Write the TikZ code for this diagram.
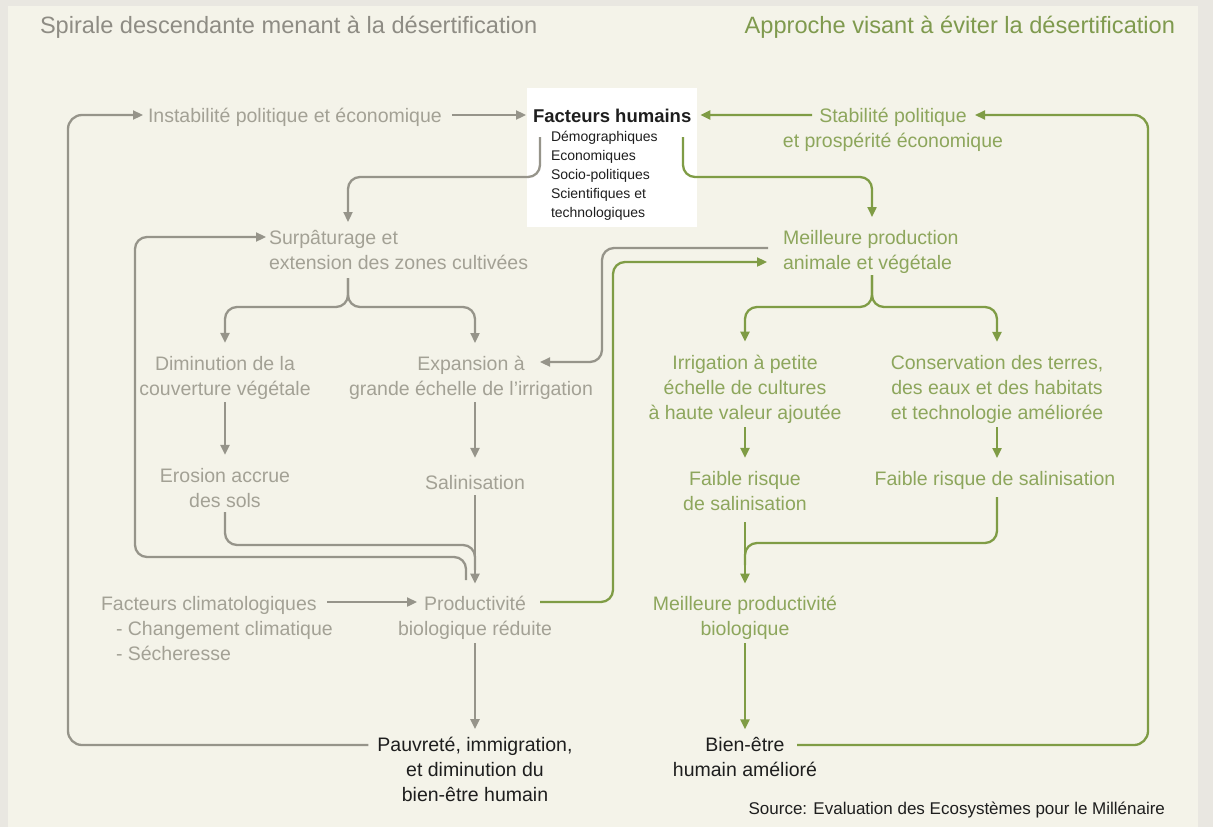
\documentclass[tikz,border=0pt]{standalone}
\usepackage{fontspec}
\setmainfont{Liberation Sans}
\usetikzlibrary{arrows.meta}
\definecolor{bgout}{HTML}{E9E7E1}
\definecolor{bgin}{HTML}{F4F3E9}
\definecolor{grayT}{HTML}{A3A195}
\definecolor{grayL}{HTML}{96948A}
\definecolor{greenT}{HTML}{8DA65C}
\definecolor{greenL}{HTML}{7F9C45}
\definecolor{titleG}{HTML}{8E8C84}
\definecolor{titleV}{HTML}{7F9A4E}
\definecolor{ink}{HTML}{1E1E1E}
\begin{document}
\begin{tikzpicture}[x=1bp,y=-1bp,
  every node/.style={inner sep=0pt, outer sep=0pt},
  body/.style={font=\fontsize{19.5bp}{25bp}\selectfont, align=center, anchor=base},
  gtext/.style={body, text=grayT},
  vtext/.style={body, text=greenT},
  ktext/.style={body, text=ink},
  ttl/.style={font=\fontsize{23.6bp}{28bp}\selectfont},
  con/.style={line width=2.3bp, rounded corners=12bp},
  gcon/.style={con, draw=grayL},
  vcon/.style={con, draw=greenL},
  arr/.style={-{Triangle[length=10bp,width=9bp]}}
]
% background
\fill[bgout] (0,0) rectangle (1213,827);
\fill[bgin] (8,6) rectangle (1198,827);

% titles
\node[ttl, text=titleG, anchor=base west] (t1) at (40,33) {Spirale descendante menant à la désertification};
\node[ttl, text=titleV, anchor=base east] (t2) at (1175,33) {Approche visant à éviter la désertification};

% nodes (base anchor = baseline of the last line)
\node[gtext, anchor=base west] (instab) at (148,122) {Instabilité politique et économique};
\node[fill=white, minimum width=170bp, minimum height=139bp, anchor=north west] (fbox) at (527,88) {};
\node[font=\bfseries\fontsize{18.5bp}{22bp}\selectfont, text=ink, anchor=base west] (fh) at (533,122) {Facteurs humains};
\node[font=\fontsize{14bp}{19bp}\selectfont, text=ink, align=left, anchor=base west] (fhl) at (551,217) {Démographiques\\Economiques\\Socio-politiques\\Scientifiques et\\technologiques};
\node[vtext] (stab) at (893,147) {Stabilité politique\\et prospérité économique};

\node[gtext, align=left, anchor=base west] (surp) at (269,269) {Surpâturage et\\extension des zones cultivées};
\node[vtext, align=left, anchor=base west] (meil) at (783,269) {Meilleure production\\animale et végétale};

\node[gtext] (dimin) at (225,395) {Diminution de la\\couverture végétale};
\node[gtext] (expan) at (471,395) {Expansion à\\grande échelle de l'irrigation};
\node[vtext] (irrig) at (745,419) {Irrigation à petite\\échelle de cultures\\à haute valeur ajoutée};
\node[vtext] (cons) at (997,419) {Conservation des terres,\\des eaux et des habitats\\et technologie améliorée};

\node[gtext] (eros) at (225,507) {Erosion accrue\\des sols};
\node[gtext] (salin) at (475,489) {Salinisation};
\node[vtext] (fr1) at (745,510) {Faible risque\\de salinisation};
\node[vtext] (fr2) at (995,485) {Faible risque de salinisation};

\node[gtext, align=left, anchor=base west] (clim) at (101,660) {Facteurs climatologiques\\\hspace*{15bp}- Changement climatique\\\hspace*{15bp}- Sécheresse};
\node[gtext] (prod) at (475,635) {Productivité\\biologique réduite};
\node[vtext] (mprod) at (745,635) {Meilleure productivité\\biologique};

\node[ktext] (pauv) at (475,801) {Pauvreté, immigration,\\et diminution du\\bien-être humain};
\node[ktext] (bien) at (745,776) {Bien-être\\humain amélioré};

\node[font=\fontsize{17bp}{20bp}\selectfont, text=ink, anchor=base east] (src) at (1165,814) {Source: Evaluation des Ecosystèmes pour le Millénaire};

% named free ends
\coordinate (stabIn) at (975,115);
\coordinate (stabOut) at (812,115);
\coordinate (bienOut) at (797,745);
\coordinate (surpStem) at (348,278);
\coordinate (surpIn) at (348,222);
\coordinate (meilStem) at (872,275);
\coordinate (meilIn) at (872,217);
\coordinate (meilLoopIn) at (767,262);
\coordinate (meilLoopOut) at (768,248);
\coordinate (expanIn) at (540,362);
\coordinate (prodOut) at (540,602);
\coordinate (prodJoin) at (466,580);
\coordinate (climOut) at (327,602);
\coordinate (prodIn) at (417,602);

% left (grey) connectors
\draw[gcon,arr,rounded corners=14bp] ([xshift=-9bp,yshift=56bp]pauv.base west) -- (68,745) -- (68,115) -- ([xshift=-5bp,yshift=7bp]instab.base west);
\draw[gcon,arr] ([xshift=10bp,yshift=7bp]instab.base east) -- ([xshift=-7bp,yshift=7bp]fh.base west);
\draw[gcon,arr] ([xshift=13bp,yshift=-49bp]fbox.north west) -- (540,177) -- (348,177) -- (surpIn);
\draw[gcon,arr] (prodJoin) -- (466,557) -- (135,557) -- (135,237) -- ([xshift=-3bp,yshift=32bp]surp.base west);
\draw[gcon,arr] (surpStem) -- (348,307) -- (225,307) -- ([yshift=13bp]dimin.north);
\draw[gcon,arr] (surpStem) -- (348,307) -- (475,307) -- (475,343);
\draw[gcon,arr] ([yshift=-3bp]dimin.south) -- ([yshift=13bp]eros.north);
\draw[gcon,arr] (475,402) -- ([yshift=17bp]salin.north);
\draw[gcon] ([yshift=-5bp]eros.south) -- (225,545) -- (475,545) -- (475,570);
\draw[gcon,arr] ([yshift=-6bp]salin.south) -- ([yshift=12bp]prod.north);
\draw[gcon,arr] (climOut) -- (prodIn);
\draw[gcon,arr] ([yshift=-4bp]prod.south) -- ([yshift=7.5bp]pauv.north);
\draw[gcon,arr] (meilLoopOut) -- (602,248) -- (602,362) -- (expanIn);

% right (green) connectors
\draw[vcon,arr] ([xshift=-14bp,yshift=-49bp]fbox.north east) -- (683,177) -- (872,177) -- (meilIn);
\draw[vcon,arr] (stabOut) -- ([xshift=9bp,yshift=7bp]fh.base east);
\draw[vcon,arr,rounded corners=14bp] (bienOut) -- (1148,745) -- (1148,115) -- (stabIn);
\draw[vcon,arr] (prodOut) -- (613,602) -- (613,262) -- (meilLoopIn);
\draw[vcon,arr] (meilStem) -- (872,307) -- (745,307) -- ([yshift=13bp]irrig.north);
\draw[vcon,arr] (meilStem) -- (872,307) -- (997,307) -- ([yshift=13bp]cons.north);
\draw[vcon,arr] ([yshift=-4bp]irrig.south) -- ([yshift=13bp]fr1.north);
\draw[vcon,arr] ([yshift=-4bp]cons.south) -- (997,458);
\draw[vcon] (997,497) -- (997,543) -- (745,543) -- (745,565);
\draw[vcon,arr] ([yshift=-12bp]fr1.south) -- ([yshift=12bp]mprod.north);
\draw[vcon,arr] ([yshift=-4bp]mprod.south) -- ([yshift=7.5bp]bien.north);
\end{tikzpicture}
\end{document}
